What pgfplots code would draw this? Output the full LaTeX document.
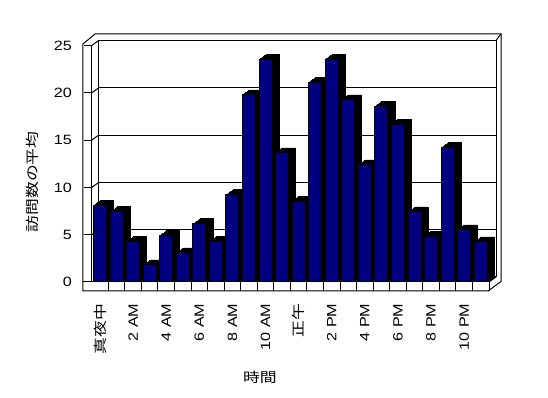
\documentclass[border=0pt]{standalone}
\usepackage{pgfplots}
\pgfplotsset{compat=1.18}
\usepackage{pgfplotstable}
\usepackage{fontspec}
\setmainfont{Liberation Sans}[FakeStretch=1.2]
\newfontfamily\jp{Noto Sans CJK JP}[FakeStretch=1.25]

\pgfplotstableread{
x v
0 8.07
1 7.43
2 4.26
3 1.80
4 4.89
5 3.07
6 6.16
7 4.26
8 9.23
9 19.77
10 23.54
11 13.64
12 8.56
13 21.07
14 23.54
15 19.24
16 12.37
17 18.60
18 16.70
19 7.40
20 4.86
21 14.20
22 5.50
23 4.23
}\data

\definecolor{navybar}{RGB}{0,0,128}

\begin{document}
\begin{tikzpicture}
\useasboundingbox[fill=white] (0,0) rectangle (411pt,298.5pt);
% back wall
\begin{axis}[at={(74.06pt,90.75pt)}, anchor=south west, scale only axis,
  width=297.94pt, height=177.375pt,
  xmin=-0.5, xmax=23.5, ymin=0, ymax=25,
  xtick=\empty, ytick={5,10,15,20}, yticklabels={{},{},{},{}},
  major tick length=0pt, ymajorgrids,
  grid style={black, line width=0.75pt},
  axis line style={black, line width=0.75pt}]
\addplot[draw=none] coordinates {(0,0)};
\end{axis}
% front
\begin{axis}[at={(68.81pt,87pt)}, anchor=south west, scale only axis,
  width=297.94pt, height=177.375pt,
  xmin=-0.5, xmax=23.5, ymin=0, ymax=25, clip=false,
  axis lines*=left, axis line style={black, line width=0.75pt},
  tick align=outside,
  ytick={0,5,10,15,20,25}, yticklabels={0,5,10,15,20,25},
  major tick length=5.8pt,
  xtick={0,2,...,22},
  xticklabels={{\jp 真夜中},2 AM,4 AM,6 AM,8 AM,10 AM,{\jp 正午},2 PM,4 PM,6 PM,8 PM,10 PM},
  major x tick style={draw=none},
  minor xtick={0.5,1.5,...,23.5}, minor tick length=6.75pt,
  tick style={black, line width=0.75pt},
  xticklabel style={rotate=90, anchor=east},
  xticklabel shift=6.9pt, yticklabel shift=5.6pt,
  tick label style={font=\fontsize{10.1}{12}\selectfont},
  label style={font=\fontsize{10.1}{12}\selectfont},
  xlabel={\jp 時間}, ylabel={\jp 訪問数の平均},
  xlabel style={at={([yshift=-71.25pt]rel axis cs:0.4235,0)}, anchor=center},
  ylabel style={at={([xshift=-44.8pt]rel axis cs:0,0.423)}, anchor=center},
  bar width=0.785]
\pgfplotsinvokeforeach{1,...,7}{
  \addplot[ybar, bar shift=0pt, fill=black, draw=black, line width=0.5pt,
    transform canvas={xshift=#1*0.75pt, yshift=#1*0.536pt}] table[x=x,y=v]{\data};
}
\addplot[ybar, bar shift=0pt, fill=navybar, draw=black, line width=0.75pt] table[x=x,y=v]{\data};
\draw[line width=0.75pt] (axis cs:-1.029,-0.951) -- (axis cs:-1.029,25.16) -- (axis cs:-0.304,26.22) -- (axis cs:24.225,26.22) -- (axis cs:24.225,0.053) -- (axis cs:23.44,-0.951) -- cycle;
\draw[line width=0.75pt] (axis cs:-1.029,0) -- (axis cs:-0.5,0);
\draw[line width=0.75pt] (axis cs:23.5,0) -- (axis cs:23.923,0.529);
\draw[line width=0.75pt] (axis cs:-0.5,25) -- (axis cs:-0.077,25.529);
\draw[line width=0.75pt] (axis cs:23.923,25.529) -- (axis cs:24.225,26.22);
\draw[line width=0.75pt] (axis cs:-0.5,5) -- (axis cs:-0.077,5.529);
\draw[line width=0.75pt] (axis cs:-0.5,10) -- (axis cs:-0.077,10.529);
\draw[line width=0.75pt] (axis cs:-0.5,15) -- (axis cs:-0.077,15.529);
\draw[line width=0.75pt] (axis cs:-0.5,20) -- (axis cs:-0.077,20.529);
\end{axis}
\end{tikzpicture}
\end{document}
